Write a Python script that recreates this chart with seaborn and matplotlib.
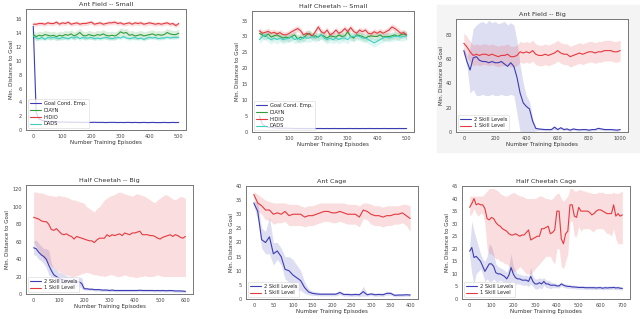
import numpy as np
import pandas as pd
import matplotlib
matplotlib.use("Agg")
import matplotlib.pyplot as plt
from matplotlib.patches import Rectangle
import seaborn as sns

sns.set_style("white")
plt.rcParams['font.family'] = ['DejaVu Sans']

# ---------------- data ----------------
titles = ["Ant Field -- Small", "Half Cheetah -- Small", "Ant Field -- Big",
          "Half Cheetah -- Big", "Ant Cage", "Half Cheetah Cage"]
xlabel = "Number Training Episodes"
ylabel = "Min. Distance to Goal"
small_labels = ["Goal Cond. Emp.", "DIAYN", "HIDIO", "DADS"]
big_labels = ["2 Skill Levels", "1 Skill Level"]

# Panel 1: Ant Field -- Small
x1 = list(range(0, 501, 10))
gce1 = [15.0, 2.5, 1.6, 1.4, 1.3, 1.25, 1.2, 1.2, 1.18, 1.15, 1.15, 1.14, 1.13, 1.12, 1.12, 1.12, 1.11,
        1.1, 1.12, 1.1, 1.1, 1.12, 1.1, 1.1, 1.1, 1.08, 1.1, 1.1, 1.1, 1.08, 1.1, 1.08, 1.1, 1.1, 1.08,
        1.1, 1.08, 1.08, 1.1, 1.08, 1.08, 1.1, 1.08, 1.08, 1.08, 1.1, 1.08, 1.08, 1.1, 1.08, 1.1]
diayn1 = [13.8, 13.5, 13.7, 13.6, 13.8, 13.7, 13.6, 13.7, 13.5, 13.7, 13.6, 13.8, 13.7, 13.9, 13.6, 13.8,
          14.1, 13.7, 13.6, 13.8, 13.7, 13.6, 13.8, 13.7, 13.9, 13.7, 13.6, 13.7, 13.6, 13.8, 14.2, 14.0,
          14.1, 13.7, 13.8, 13.6, 13.7, 13.8, 13.6, 13.7, 13.8, 13.9, 13.7, 13.8, 13.7, 13.8, 14.1, 13.9,
          13.8, 13.8, 14.0]
hidio1 = [15.3, 15.3, 15.4, 15.4, 15.3, 15.5, 15.4, 15.4, 15.6, 15.3, 15.5, 15.4, 15.6, 15.3, 15.4, 15.5,
          15.3, 15.4, 15.4, 15.5, 15.6, 15.3, 15.4, 15.5, 15.3, 15.4, 15.5, 15.5, 15.6, 15.4, 15.5, 15.3,
          15.4, 15.5, 15.3, 15.5, 15.4, 15.5, 15.3, 15.4, 15.5, 15.4, 15.3, 15.4, 15.3, 15.4, 15.5, 15.3,
          15.4, 15.1, 15.4]
dads1 = [13.6, 13.3, 13.2, 13.4, 13.1, 13.4, 13.3, 13.4, 13.3, 13.2, 13.4, 13.3, 13.2, 13.4, 13.3, 13.5,
         13.2, 13.4, 13.3, 13.3, 13.4, 13.2, 13.3, 13.2, 13.3, 13.4, 13.3, 13.2, 13.3, 13.4, 13.3, 13.5,
         13.3, 13.2, 13.3, 13.4, 13.2, 13.3, 13.1, 13.3, 13.4, 13.3, 13.4, 13.2, 13.3, 13.3, 13.4, 13.3,
         13.4, 13.4, 13.4]
spread1 = [0.05, 0.6, 0.3, 0.25]   # half-width of bands: GCE, DIAYN, HIDIO, DADS

# Panel 2: Half Cheetah -- Small
x2 = list(range(0, 501, 10))
gce2 = [5.0, 2.5, 1.8, 1.5, 1.4, 1.3, 1.25, 1.2, 1.2, 1.2, 1.15, 1.15, 1.1, 1.1, 1.1, 1.1, 1.1,
        1.08, 1.1, 1.08, 1.1, 1.1, 1.08, 1.1, 1.08, 1.1, 1.1, 1.08, 1.1, 1.08, 1.1, 1.1, 1.08, 1.1,
        1.08, 1.1, 1.08, 1.1, 1.1, 1.08, 1.1, 1.08, 1.1, 1.1, 1.08, 1.1, 1.08, 1.1, 1.1, 1.08, 1.1]
hidio2 = [31.8, 31.0, 31.3, 31.6, 31.0, 31.3, 30.8, 31.2, 30.6, 30.5, 30.9, 31.5, 32.0, 32.5, 31.8, 30.5,
          31.0, 30.7, 30.2, 31.5, 33.0, 31.5, 31.0, 32.0, 30.5, 31.0, 32.0, 31.0, 31.5, 32.5, 31.5, 32.8,
          31.6, 31.0, 32.0, 31.5, 32.0, 31.0, 30.8, 31.5, 31.0, 31.6, 31.0, 31.5, 32.0, 33.0, 32.5, 31.8,
          31.0, 31.2, 30.5]
diayn2 = [31.0, 30.5, 30.0, 30.8, 29.8, 30.2, 30.5, 30.0, 29.5, 29.8, 29.5, 30.0, 30.5, 29.2, 29.8, 29.5,
          30.5, 31.0, 30.0, 30.2, 29.8, 30.5, 30.0, 29.5, 30.2, 30.0, 29.8, 30.5, 30.0, 30.2, 31.5, 30.0,
          29.5, 30.5, 30.3, 30.0, 29.5, 30.0, 30.2, 30.0, 30.0, 30.5, 29.8, 30.0, 30.0, 30.2, 30.5, 30.0,
          30.5, 30.8, 30.3]
dads2 = [29.0, 30.0, 30.5, 29.5, 29.0, 29.5, 29.0, 29.5, 29.0, 29.2, 29.5, 29.8, 29.0, 29.5, 29.0, 29.8,
         29.5, 29.5, 30.0, 29.5, 30.0, 30.5, 29.5, 29.0, 29.5, 29.0, 29.5, 29.0, 29.5, 29.5, 29.0, 30.0,
         30.0, 30.2, 30.0, 29.5, 29.5, 29.0, 28.5, 28.0, 28.5, 29.0, 29.5, 29.8, 29.5, 29.8, 30.0, 30.0,
         29.8, 30.0, 30.2]
spread2 = [0.1, 1.2, 1.0, 1.3]

# Panel 3: Ant Field -- Big
x3 = list(range(0, 1001, 20))
two3 = [67, 58, 51, 61, 62, 59, 58, 58, 57, 58, 57, 57, 58, 56, 54, 57, 54, 45, 32, 24, 21, 19, 9, 3,
        2.5, 2.2, 2, 2, 2, 4, 2, 3.5, 2, 2.5, 1.5, 2.5, 2, 1.8, 2, 2, 1.5, 2, 2, 3, 2.5, 2, 2, 2, 1.8,
        1.5, 2]
two3_hi = [70, 62, 70, 85, 88, 90, 91, 89, 92, 90, 91, 89, 90, 91, 88, 90, 88, 75, 55, 40, 30, 25, 12, 4,
           3.5, 3.2, 3, 3, 3, 5, 3, 4.5, 3, 3.5, 2.5, 3.5, 3, 2.8, 3, 3, 2.5, 3, 3, 4, 3.5, 3, 3, 3, 2.8,
           2.5, 3]
two3_lo = [64, 54, 32, 35, 30, 30, 31, 30, 30, 31, 30, 30, 31, 30, 30, 31, 30, 15, 0, 0, 0, 0, 0, 1,
           1.5, 1.2, 1, 1, 1, 2, 1, 2, 1, 1.5, 0.5, 1.5, 1, 0.8, 1, 1, 0.5, 1, 1, 1.8, 1.5, 1, 1, 1, 0.8,
           0.5, 1]
one3 = [73, 70, 66, 63, 64, 63, 64, 64, 63, 64, 63, 62, 63, 63, 64, 62, 62, 63, 66, 65, 66, 65, 67, 64,
        63, 63, 64, 63, 64, 65, 67, 65, 64, 64, 62, 63, 64, 65, 64, 65, 66, 66, 65, 66, 66, 67, 67, 67,
        66, 66, 67]
one3_spread = 8.5

# Panel 4: Half Cheetah -- Big
x4 = list(range(0, 601, 10))
two4 = [53, 52, 48, 45, 43, 40, 33, 27, 22, 20, 18, 17, 16, 15, 15, 14, 13, 14, 14, 12, 6, 6, 5.5, 5.5,
        5, 5, 5, 4.5, 4.5, 4.5, 4, 4.5, 4, 4, 4, 4, 4, 4, 4, 4, 4, 4, 4.3, 4, 4, 4, 4, 4, 3.8, 4, 3.8,
        4, 3.8, 3.8, 4, 3.8, 3.5, 3.5, 3.5, 3.3, 3]
two4_hi = [60, 62, 58, 55, 52, 52, 50, 35, 30, 28, 25, 24, 22, 21, 20, 20, 19, 19, 19, 19, 8, 7.5, 7, 7,
           6.5, 6.5, 6.5, 6, 6, 6, 5.5, 6, 5.5, 5.5, 5.5, 5.5, 5.5, 5.5, 5.5, 5.5, 5.5, 5.5, 5.8, 5.5,
           5.5, 5.5, 5.5, 5.5, 5.3, 5.5, 5.3, 5.5, 5.3, 5.3, 5.5, 5.3, 5, 5, 5, 4.8, 4.5]
two4_lo = [45, 44, 40, 38, 35, 30, 22, 20, 16, 14, 12, 11, 10, 10, 10, 9, 8, 9, 9, 6, 4.5, 4.5, 4, 4,
           3.5, 3.5, 3.5, 3, 3, 3, 2.5, 3, 2.5, 2.5, 2.5, 2.5, 2.5, 2.5, 2.5, 2.5, 2.5, 2.5, 2.8, 2.5,
           2.5, 2.5, 2.5, 2.5, 2.3, 2.5, 2.3, 2.5, 2.3, 2.3, 2.5, 2.3, 2, 2, 2, 1.8, 1.5]
one4 = [88, 87, 86, 84, 83, 83, 80, 74, 73, 75, 72, 69, 68, 69, 67, 66, 63, 66, 65, 64, 63, 62, 61, 61,
        59, 62, 64, 64, 64, 68, 66, 68, 67, 68, 69, 67, 70, 69, 68, 70, 70, 71, 72, 68, 68, 68, 67, 67,
        66, 64, 63, 65, 66, 67, 68, 66, 68, 67, 65, 64, 66]
one4_hi = [117, 117, 116, 116, 115, 114, 113, 113, 112, 112, 113, 112, 112, 111, 110, 108, 108, 107, 106,
           105, 104, 100, 98, 96, 94, 98, 100, 104, 108, 110, 112, 113, 114, 116, 117, 116, 115, 114, 113,
           112, 114, 115, 114, 113, 112, 110, 108, 106, 105, 108, 110, 112, 114, 113, 111, 109, 108, 110,
           112, 111, 110]
one4_lo = [60, 55, 50, 45, 40, 38, 35, 32, 30, 28, 26, 24, 22, 22, 21, 20, 20, 21, 22, 23, 24, 25, 24, 23,
           22, 22, 21, 21, 20, 21, 22, 22, 21, 20, 20, 21, 22, 21, 20, 20, 19, 19, 20, 20, 21, 20, 20, 20,
           21, 22, 21, 20, 20, 20, 20, 20, 20, 20, 20, 20, 20]

# Panel 5: Ant Cage
x5 = list(range(0, 401, 10))
two5 = [34, 31, 21, 20, 22, 16, 17, 15, 10.5, 10, 8.5, 7.5, 6.5, 4, 2.5, 2, 1.8, 1.7, 1.7, 1.7, 1.7, 1.7,
        2.3, 1.6, 1.6, 1.5, 1.6, 1.5, 2.6, 1.5, 1.8, 1.5, 1.6, 1.5, 2, 2, 1.3, 1.4, 1.4, 1.5, 1.4]
two5_hi = [35, 34, 25, 24, 29, 20, 20, 18, 15, 15, 14, 12, 10, 6, 3.5, 2.8, 2.5, 2.3, 2.3, 2.3, 2.3, 2.3,
           3, 2.2, 2.2, 2.1, 2.2, 2.1, 4.5, 2, 2.4, 2.1, 2.2, 2.1, 2.6, 2.6, 1.8, 1.9, 1.9, 2, 1.9]
two5_lo = [33, 28, 18, 16, 16, 12, 14, 12, 7, 6, 4, 3, 3, 2, 1.5, 1.3, 1.2, 1.1, 1.1, 1.1, 1.1, 1.1, 1.6,
           1.0, 1.0, 0.9, 1.0, 0.9, 1, 1, 1.2, 0.9, 1, 0.9, 1.4, 1.4, 0.8, 0.9, 0.9, 1, 0.9]
one5 = [37, 34, 33, 31.5, 31.5, 30, 30.5, 30, 31, 29.5, 30, 30, 30, 29, 29.5, 29.5, 30, 30.5, 31, 31,
        30.5, 30.5, 31, 30.5, 30, 30, 30, 29, 31.5, 31, 30, 29.5, 29.5, 29, 29.5, 29.5, 30, 30, 30.5,
        29.5, 28.5]
one5_hi = [38, 37, 36, 35, 34.5, 34, 34, 34, 34, 33.5, 33.5, 33.5, 33, 32.5, 33, 33, 33.5, 34, 34, 34,
           34, 34, 34, 34, 33.5, 33.5, 33.5, 33, 34, 34, 33.5, 33, 33, 32.5, 33, 33, 33, 33, 33.5, 33.5, 33]
one5_lo = [36, 31, 30, 28, 28, 26.5, 27, 27, 27.5, 26, 26, 26, 26, 25.5, 26, 26, 26.5, 27, 27.5, 27.5,
           27, 27, 27.5, 27, 26.5, 26.5, 26.5, 25.5, 28.5, 28, 26.5, 26, 26, 25.5, 26, 26, 26.5, 26.5,
           27, 26, 24]

# Panel 6: Half Cheetah Cage
x6 = list(range(0, 701, 10))
two6 = [19, 20.5, 16.5, 17, 16, 15, 13, 11, 12.5, 14, 14, 13, 10.5, 10, 10, 9.5, 9, 8, 9.5, 12.5, 10,
        8.5, 8, 8, 7.5, 7.5, 7.5, 7, 9, 7, 6, 6, 6.5, 6, 7, 6, 6, 5.5, 5.5, 5.5, 5.2, 5.2, 6, 5.5, 5.2,
        5, 5, 4.8, 4.8, 4.7, 4.6, 4.6, 4.6, 4.5, 4.5, 4.5, 4.5, 4.5, 4.4, 4.5, 4.5, 4.3, 4.5, 4.4, 4.5,
        4.5, 4.6, 4.4, 4.5, 4.3, 4.2]
two6_hi = [21, 31, 27, 24, 21, 18, 16, 15, 17, 22, 21, 18, 14, 13, 12.5, 12, 11.5, 10.5, 13, 18, 13, 11,
           10, 10, 9.5, 9.5, 9.5, 9, 12.5, 9, 8, 8, 8.5, 8, 8.5, 7.5, 7.5, 7, 6.5, 6.5, 6, 6, 6.8, 6.3, 6,
           5.8, 5.7, 5.5, 5.5, 5.4, 5.3, 5.3, 5.3, 5.2, 5.2, 5.2, 5.2, 5.2, 5.1, 5.2, 5.2, 5.0, 5.2, 5.1,
           5.2, 5.2, 5.3, 5.1, 5.2, 5.0, 4.9]
two6_lo = [17, 10, 6, 10, 11, 12, 10, 7, 8, 7, 7, 8, 7, 7, 7.5, 7, 6.5, 5.5, 6, 7, 7, 6, 6, 6, 5.5, 5.5,
           5.5, 5, 6, 5, 4, 4, 4.5, 4, 5.5, 4.5, 4.5, 4, 4.5, 4.5, 4.4, 4.4, 5.2, 4.7, 4.4, 4.2, 4.3, 4.1,
           4.1, 4.0, 3.9, 3.9, 3.9, 3.8, 3.8, 3.8, 3.8, 3.8, 3.7, 3.8, 3.8, 3.6, 3.8, 3.7, 3.8, 3.8, 3.9,
           3.7, 3.8, 3.6, 3.5]
one6 = [36.5, 38, 40, 37.5, 38, 37.5, 37.5, 36, 32, 31.5, 32.5, 32, 30.5, 29.5, 29, 28, 27.5, 27, 26,
        25.5, 25.5, 26, 25.5, 25, 25.5, 25.5, 26.5, 27.5, 23.5, 24, 24.5, 25, 25, 28, 28, 28.5, 29, 26,
        26.5, 27.5, 35, 35, 24, 22, 26, 27, 37.5, 37.5, 33, 32.5, 36.5, 35, 35, 35, 35, 34.5, 33.5, 34,
        35, 35.5, 35.5, 35, 34.5, 34, 34, 34, 37.5, 33, 34, 33, 33.5]
one6_hi = [41, 41, 41, 41, 41, 41, 41, 42, 43, 44, 44, 44, 43.5, 43, 42, 41.5, 41, 41, 41.5, 42, 42.5, 42,
           41.5, 41, 41, 40.5, 40, 40, 40, 40, 40, 40.5, 41, 41, 40.5, 40, 40, 39.5, 40, 41, 42, 42, 40,
           39, 40, 41, 44, 44, 43, 43, 43.5, 43.5, 43, 43, 42.5, 42.5, 42, 42, 42, 42.5, 42.5, 42.5, 42,
           42, 42, 42, 42.5, 42, 42, 42.5, 43]
one6_lo = [33, 34, 36, 34, 33, 34, 34, 30, 20, 18, 18, 17, 16, 16, 15, 15, 14, 14, 13, 12, 11, 11, 12, 13,
           12, 11, 10, 10, 10, 11, 12, 13, 14, 15, 16, 17, 17, 17, 15, 14, 20, 20, 13, 12, 15, 18, 31, 31,
           25, 25, 29, 27, 28, 28, 28, 28, 27, 27, 28, 28, 28, 28, 27, 26, 26, 25, 28, 24, 22, 22, 22]

ylims = [(0, 17.5), (0, 38), (0, 93), (0, 125), (0, 40), (0, 45)]
yticks = [list(range(0, 17, 2)), list(range(0, 36, 5)), list(range(0, 81, 20)),
          list(range(0, 121, 20)), list(range(0, 41, 5)), list(range(0, 46, 5))]
xticks = [list(range(0, 501, 100)), list(range(0, 501, 100)), list(range(0, 1001, 200)),
          list(range(0, 601, 100)), list(range(0, 401, 50)), list(range(0, 701, 100))]

# ---------------- style ----------------
BLUE = "#3c3cb4"
RED = "#e5393f"
GREEN = "#2e9e3a"
CYAN = "#3fd0c4"
BAND_A = 0.17
FS_TICK, FS_LAB, FS_TITLE, FS_LEG = 3.6, 4.0, 4.6, 3.7
LW = 0.8

W, H = 640, 319
fig = plt.figure(figsize=(6.4, 3.19), dpi=100)
fig.patch.set_facecolor("white")
fig.patches.append(Rectangle((437 / W, 1 - 152 / H), (W - 437) / W, (152 - 5) / H,
                             transform=fig.transFigure, color="#f4f4f4", zorder=-5))

boxes = [(26, 186, 9, 130), (252, 414, 11, 132), (456, 628, 19, 132),
         (26, 193, 185, 294), (246, 418, 186, 299), (462, 630, 186, 299)]
axes = []
for (l, r, t, b) in boxes:
    ax = fig.add_axes([l / W, 1 - b / H, (r - l) / W, (b - t) / H])
    axes.append(ax)


def band(ax, x, lo, hi, color):
    ax.fill_between(x, lo, hi, color=color, alpha=BAND_A, linewidth=0)


def line(ax, x, y, color, label):
    df = pd.DataFrame({"x": x, "y": y})
    sns.lineplot(data=df, x="x", y="y", ax=ax, color=color, label=label, linewidth=LW)


# small panels
for ax, x, series, spread in [(axes[0], x1, [gce1, diayn1, hidio1, dads1], spread1),
                              (axes[1], x2, [gce2, diayn2, hidio2, dads2], spread2)]:
    cols = [BLUE, GREEN, RED, CYAN]
    for s, sp, c in zip(series, spread, cols):
        a = np.array(s)
        band(ax, x, a - sp, a + sp, c)
    for s, c, lab in zip(series, cols, small_labels):
        line(ax, x, s, c, lab)

# big panels
big = [(axes[2], x3, two3, two3_lo, two3_hi, one3,
        list(np.array(one3) - one3_spread), list(np.array(one3) + one3_spread)),
       (axes[3], x4, two4, two4_lo, two4_hi, one4, one4_lo, one4_hi),
       (axes[4], x5, two5, two5_lo, two5_hi, one5, one5_lo, one5_hi),
       (axes[5], x6, two6, two6_lo, two6_hi, one6, one6_lo, one6_hi)]
for ax, x, two, tlo, thi, one, olo, ohi in big:
    band(ax, x, tlo, thi, BLUE)
    band(ax, x, olo, ohi, RED)
    line(ax, x, two, BLUE, big_labels[0])
    line(ax, x, one, RED, big_labels[1])

for i, ax in enumerate(axes):
    ax.set_title(titles[i], fontsize=FS_TITLE, pad=2.5, color="#333333")
    ax.set_xlabel(xlabel, fontsize=FS_LAB, labelpad=1, color="#333333")
    ax.set_ylabel(ylabel, fontsize=FS_LAB, labelpad=1.5, color="#333333")
    ax.set_ylim(*ylims[i])
    ax.set_yticks(yticks[i])
    ax.set_xticks(xticks[i])
    ax.tick_params(labelsize=FS_TICK, length=1.8, width=0.5, pad=1, colors="#444444")
    for sp in ax.spines.values():
        sp.set_color("#777777")
        sp.set_linewidth(0.7)
    ax.set_facecolor("white")
    leg = ax.legend(loc="lower left", fontsize=FS_LEG, frameon=True, handlelength=2.2,
                    borderpad=0.4, labelspacing=0.35, handletextpad=0.6, borderaxespad=0.3)
    leg.get_frame().set_linewidth(0.4)
    leg.get_frame().set_edgecolor("#cccccc")
    for h in leg.get_lines():
        h.set_linewidth(LW)

fig.savefig("out.png", dpi=100, facecolor="white")
